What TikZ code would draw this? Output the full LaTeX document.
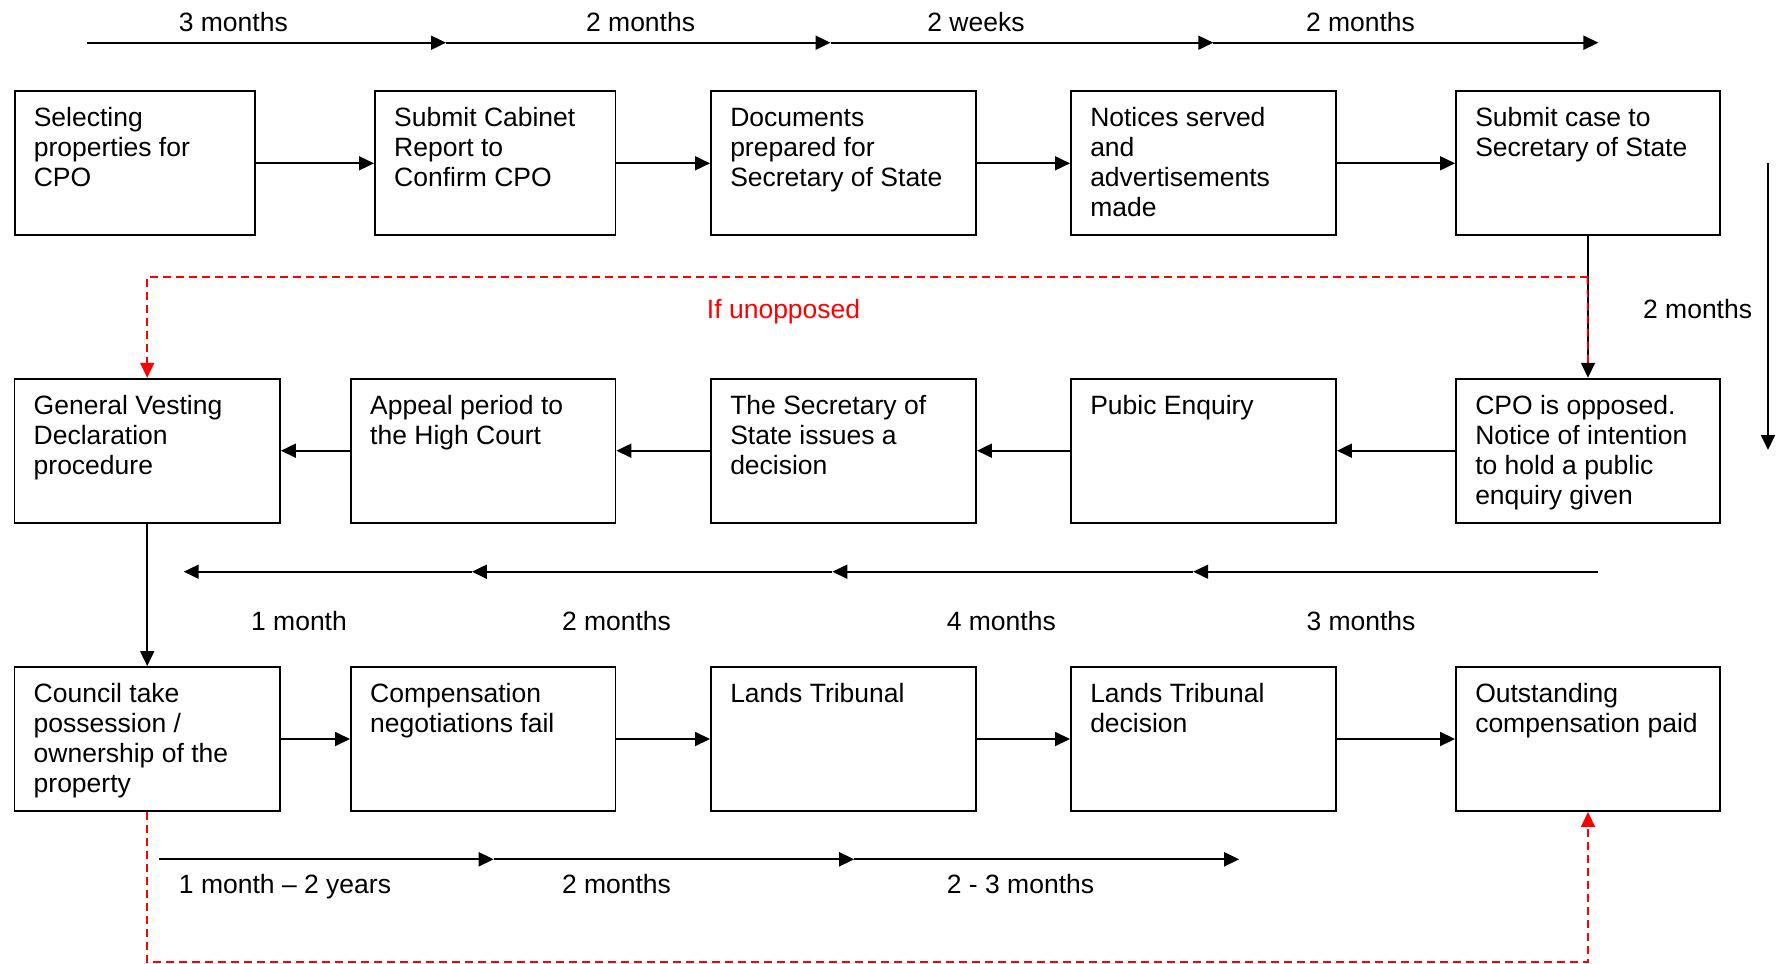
\documentclass[tikz,border=0pt]{standalone}
\usepackage{fontspec}
\setmainfont{Liberation Sans}
\usetikzlibrary{arrows.meta,calc}
\begin{document}
\begin{tikzpicture}[x=1pt,y=-1pt,
  box/.style={draw, line width=1.9pt, inner sep=0pt, minimum height=144pt},
  txt/.style={anchor=base west, inner sep=0pt, font=\fontsize{26.5}{30}\selectfont},
  lab/.style={anchor=base, inner sep=0pt, font=\fontsize{26.5}{30}\selectfont},
  conn/.style={line width=1.8pt, -{Triangle[length=15pt,width=14pt]}},
  rd/.style={red, line width=1.7pt, dash pattern=on 8pt off 5pt},
  rdarrow/.style={rd, -{Triangle[length=15pt,width=14pt]}}
]
\useasboundingbox (0,0) rectangle (1781,964);

% ---------- boxes ----------
\node[box, minimum width=240.5pt] (a1) at (134.8,163.3) {};
\node[box, minimum width=240.5pt] (a2) at (495.2,163.3) {};
\node[box, minimum width=265pt] (a3) at (843.5,163.3) {};
\node[box, minimum width=265pt] (a4) at (1203.5,163.3) {};
\node[box, minimum width=264pt] (a5) at (1588,163.3) {};

\node[box, minimum width=265.5pt] (b1) at (147.2,450.7) {};
\node[box, minimum width=264.5pt] (b2) at (483.2,450.7) {};
\node[box, minimum width=265pt] (b3) at (843.5,450.7) {};
\node[box, minimum width=265pt] (b4) at (1203.5,450.7) {};
\node[box, minimum width=264pt] (b5) at (1588,450.7) {};

\node[box, minimum width=265.5pt] (c1) at (147.2,739) {};
\node[box, minimum width=264.5pt] (c2) at (483.2,739) {};
\node[box, minimum width=265pt] (c3) at (843.5,739) {};
\node[box, minimum width=265pt] (c4) at (1203.5,739) {};
\node[box, minimum width=264pt] (c5) at (1588,739) {};

% ---------- box texts ----------
\newcommand{\bt}[3]{\node[txt] (#1t) at ($(#1.north west)+(20,36.5)$) {\parbox[t]{#2pt}{\raggedright #3}};}
\bt{a1}{220}{Selecting\\properties for\\CPO}
\bt{a2}{220}{Submit Cabinet\\Report to\\Confirm CPO}
\bt{a3}{245}{Documents\\prepared for\\Secretary of State}
\bt{a4}{245}{Notices served\\and\\advertisements\\made}
\bt{a5}{245}{Submit case to\\Secretary of State}
\bt{b1}{245}{General Vesting\\Declaration\\procedure}
\bt{b2}{245}{Appeal period to\\the High Court}
\bt{b3}{245}{The Secretary of\\State issues a\\decision}
\bt{b4}{245}{Pubic Enquiry}
\bt{b5}{245}{CPO is opposed.\\Notice of intention\\to hold a public\\enquiry given}
\bt{c1}{245}{Council take\\possession /\\ownership of the\\property}
\bt{c2}{245}{Compensation\\negotiations fail}
\bt{c3}{245}{Lands Tribunal}
\bt{c4}{245}{Lands Tribunal\\decision}
\bt{c5}{245}{Outstanding\\compensation paid}

% ---------- box connectors ----------
\draw[conn] (a1.east) -- (a2.west);
\draw[conn] (a2.east) -- (a3.west);
\draw[conn] (a3.east) -- (a4.west);
\draw[conn] (a4.east) -- (a5.west);
\draw[conn] (a5.south) -- (b5.north);
\draw[conn] (b5.west) -- (b4.east);
\draw[conn] (b4.west) -- (b3.east);
\draw[conn] (b3.west) -- (b2.east);
\draw[conn] (b2.west) -- (b1.east);
\draw[conn] (b1.south) -- (c1.north);
\draw[conn] (c1.east) -- (c2.west);
\draw[conn] (c2.east) -- (c3.west);
\draw[conn] (c3.east) -- (c4.west);
\draw[conn] (c4.east) -- (c5.west);

% ---------- red dashed paths ----------
\coordinate (split) at (1587.5,276.7);
\coordinate (bot) at (147.2,962);
\draw[rdarrow] (split) -| (b1.north);
\draw[rd, shorten >=15pt] (split) -- (b5.north);
\draw[rdarrow] (c1.south) -- (bot) -| (c5.south);
\node[lab, text=red] (unopp) at (783.6,318) {If unopposed};

% ---------- top timeline ----------
\coordinate (t0) at (87.3,42.7);
\coordinate (t1) at (446,42.7);
\coordinate (t2) at (830.5,42.7);
\coordinate (t3) at (1213.3,42.7);
\coordinate (t4) at (1598.4,42.7);
\draw[conn] (t0) -- (t1);
\draw[conn] (t1) -- (t2);
\draw[conn] (t2) -- (t3);
\draw[conn] (t3) -- (t4);
\node[lab] (tl1) at (233.3,31.5) {3 months};
\node[lab] (tl2) at (640.6,31.5) {2 months};
\node[lab] (tl3) at (976,31.5) {2 weeks};
\node[lab] (tl4) at (1360.5,31.5) {2 months};

% ---------- right vertical ----------
\coordinate (v0) at (1768,163.3);
\coordinate (v1) at (1768,450);
\draw[conn] (v0) -- (v1);
\node[lab] (vl) at (1697.6,318) {2 months};

% ---------- middle timeline ----------
\coordinate (m0) at (1598.4,571.7);
\coordinate (m1) at (1193.2,571.7);
\coordinate (m2) at (832.4,571.7);
\coordinate (m3) at (471.9,571.7);
\coordinate (m4) at (183.7,571.7);
\draw[conn] (m0) -- (m1);
\draw[conn] (m1) -- (m2);
\draw[conn] (m2) -- (m3);
\draw[conn] (m3) -- (m4);
\node[lab] (ml1) at (299,630) {1 month};
\node[lab] (ml2) at (616.5,630) {2 months};
\node[lab] (ml3) at (1001.3,630) {4 months};
\node[lab] (ml4) at (1361,630) {3 months};

% ---------- bottom timeline ----------
\coordinate (s0) at (159,859.3);
\coordinate (s1) at (493.7,859.3);
\coordinate (s2) at (854.2,859.3);
\coordinate (s3) at (1239.2,859.3);
\draw[conn] (s0) -- (s1);
\draw[conn] (s1) -- (s2);
\draw[conn] (s2) -- (s3);
\node[lab] (sl1) at (285,893.5) {1 month – 2 years};
\node[lab] (sl2) at (616.5,893.5) {2 months};
\node[lab] (sl3) at (1020.5,893.5) {2 - 3 months};
\end{tikzpicture}
\end{document}
